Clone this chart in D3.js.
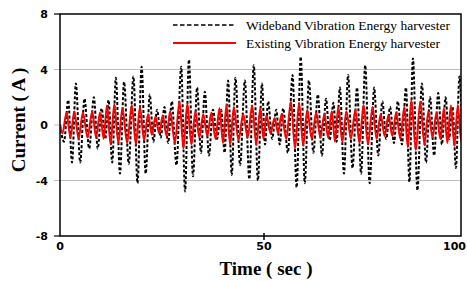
<!DOCTYPE html>
<html><head><meta charset="utf-8">
<script src="https://cdn.jsdelivr.net/npm/d3@7"></script>
<style>html,body{margin:0;padding:0;background:#fff;}svg{display:block;}</style>
</head><body>
<svg id="chart" width="467" height="281"></svg>
<script>
const seriesNames = ["Wideband Vibration Energy harvester", "Existing Vibration Energy harvester"];
const xTicks = [0, 50, 100];
const yTicks = [-8, -4, 0, 4, 8];
const timeWideband = [0,1.0,2.0,2.95,3.9,4.95,6.0,7.15,8.3,9.25,10.2,11.1,11.9,12.8,13.7,14.7,15.7,16.85,18.0,19.0,20.0,21.0,22.0,22.9,23.8,24.7,25.6,26.5,27.4,28.55,29.7,30.65,31.6,32.6,33.6,34.55,35.5,36.5,37.5,38.5,39.5,40.35,41.2,42.1,43.0,44.15,45.3,46.4,47.5,48.5,49.5,50.25,51.0,52.0,53.0,53.85,54.7,55.85,57.0,58.0,59.0,60.0,61.0,62.1,63.2,64.2,65.2,66.1,67.0,67.8,68.6,69.6,70.6,71.7,72.8,73.8,74.8,75.9,77.0,78.0,79.0,79.95,80.9,81.85,82.8,83.8,84.8,85.65,86.5,87.6,88.7,89.7,90.7,91.7,92.7,93.6,94.5,95.35,96.2,97.05,97.9,98.8];
const wideband = [0,-1.2,1.8,-2.7,3.0,-2.7,1.9,-1.7,2.0,-1.7,1.2,-1.0,1.8,-2.7,3.4,-3.5,3.1,-2.8,3.5,-4.2,4.2,-3.5,2.2,-1.2,1.1,-0.9,1.3,-1.3,1.7,-2.9,4.2,-4.8,4.7,-3.7,2.7,-2.0,2.4,-2.2,1.1,-1.0,1.1,-2.0,3.2,-3.6,3.4,-2.9,3.2,-3.9,4.3,-4.0,3.0,-1.4,1.7,-1.0,1.1,-1.4,1.2,-2.0,3.6,-4.5,4.9,-4.2,3.2,-2.0,2.2,-2.2,1.9,-1.1,1.6,-1.2,2.7,-3.5,3.6,-3.1,2.7,-3.5,4.3,-4.2,2.7,-2.2,1.7,-1.0,1.3,-1.3,1.7,-1.4,2.7,-4.1,4.8,-4.7,3.0,-2.7,2.0,-2.2,2.3,-1.4,2.0,-1.0,1.3,-3.1,3.5,-3.0];
const timeExisting = [0,0.6,1.6,2.55,3.5,4.55,5.6,6.75,7.9,8.85,9.8,10.7,11.5,12.4,13.3,14.3,15.3,16.45,17.6,18.6,19.6,20.6,21.6,22.5,23.4,24.3,25.2,26.1,27.0,28.15,29.3,30.25,31.2,32.2,33.2,34.15,35.1,36.1,37.1,38.1,39.1,39.95,40.8,41.7,42.6,43.75,44.9,46.0,47.1,48.1,49.1,49.85,50.6,51.6,52.6,53.45,54.3,55.45,56.6,57.6,58.6,59.6,60.6,61.7,62.8,63.8,64.8,65.7,66.6,67.4,68.2,69.2,70.2,71.3,72.4,73.4,74.4,75.5,76.6,77.6,78.6,79.55,80.5,81.45,82.4,83.4,84.4,85.25,86.1,87.2,88.3,89.3,90.3,91.3,92.3,93.2,94.1,94.95,95.8,96.65,97.5,98.4,99.3];
const existing = [0,-0.6,0.9,-0.9,1.0,-1.0,0.9,-0.9,1.0,-0.9,0.9,-1.0,1.4,-1.4,1.5,-1.3,1.2,-1.3,1.45,-1.4,1.3,-1.1,0.8,-0.7,0.6,-0.6,0.7,-0.8,1.0,-1.3,1.7,-1.7,1.55,-1.4,1.0,-0.9,0.8,-0.8,0.9,-1.0,1.2,-1.3,1.45,-1.4,1.3,-1.1,0.8,-0.9,1.4,-1.4,1.2,-1.0,0.7,-0.6,0.5,-0.6,0.8,-1.0,1.7,-1.7,1.6,-1.5,1.1,-1.0,0.9,-0.9,0.8,-0.9,1.0,-1.2,1.3,-1.2,1.0,-1.0,1.1,-1.3,1.45,-1.4,1.3,-1.0,0.8,-0.8,0.7,-0.8,0.9,-1.0,1.3,-1.6,1.8,-1.8,1.7,-1.4,1.0,-0.9,0.9,-1.0,1.2,-1.3,1.4,-1.5,1.45,-1.3,1.2];

const svg = d3.select("#chart");
const L = 60, T = 14, R = 461, B = 236;
const x = d3.scaleLinear().domain([0, 100]).range([L, 468]);
const y = d3.scaleLinear().domain([-8, 8]).range([B, T]);

// gridlines
svg.append("g").selectAll("line").data(yTicks.filter(v => Math.abs(v) < 8)).join("line")
  .attr("x1", L - 6).attr("x2", R).attr("y1", d => y(d)).attr("y2", d => y(d))
  .attr("stroke", "#bfbfbf").attr("stroke-width", 1.2);
svg.append("g").selectAll("line").data(yTicks.filter(v => Math.abs(v) === 8)).join("line")
  .attr("x1", L - 6).attr("x2", L).attr("y1", d => y(d)).attr("y2", d => y(d))
  .attr("stroke", "#000").attr("stroke-width", 1.2);

svg.append("clipPath").attr("id", "clip").append("rect")
  .attr("x", L).attr("y", T).attr("width", R - L).attr("height", B - T);

const lineGen = (xs) => d3.line().x((d, i) => x(xs[i])).y(d => y(d)).curve(d3.curveMonotoneX);
const plot = svg.append("g").attr("clip-path", "url(#clip)");
plot.append("path").attr("d", lineGen(timeWideband)(wideband))
  .attr("fill", "none").attr("stroke", "#000").attr("stroke-width", 2).attr("stroke-dasharray", "3,2");
plot.append("path").attr("d", lineGen(timeExisting)(existing))
  .attr("fill", "none").attr("stroke", "#ff0000").attr("stroke-width", 2);

// frame
svg.append("rect").attr("x", L).attr("y", T).attr("width", R - L).attr("height", B - T)
  .attr("fill", "none").attr("stroke", "#000").attr("stroke-width", 1.5);

// x ticks
svg.append("g").selectAll("line").data(xTicks.filter(v => v > 0 && v < 100)).join("line")
  .attr("x1", d => x(d)).attr("x2", d => x(d)).attr("y1", B - 3).attr("y2", B + 4)
  .attr("stroke", "#000").attr("stroke-width", 1.5);
svg.append("g").selectAll("text").data(xTicks).join("text")
  .attr("x", d => d === 100 ? 466 : x(d)).attr("y", 250)
  .attr("text-anchor", d => d === 100 ? "end" : "middle")
  .attr("font-family", "DejaVu Sans").attr("font-weight", "bold").attr("font-size", 11)
  .text(d => d);
svg.append("g").selectAll("text").data(yTicks).join("text")
  .attr("x", 48).attr("y", d => y(d) + 4).attr("text-anchor", "end")
  .attr("font-family", "DejaVu Sans").attr("font-weight", "bold").attr("font-size", 11)
  .text(d => d);

// axis titles
svg.append("text").attr("x", 266).attr("y", 275).attr("text-anchor", "middle")
  .attr("font-family", "Liberation Serif").attr("font-weight", "bold").attr("font-size", 19)
  .text("Time ( sec )");
svg.append("text").attr("transform", "translate(25,120) rotate(-90)").attr("text-anchor", "middle")
  .attr("font-family", "Liberation Serif").attr("font-weight", "bold").attr("font-size", 19)
  .text("Current ( A )");

// legend
const leg = svg.append("g");
const legY = [25, 43];
leg.selectAll("line").data(seriesNames).join("line")
  .attr("x1", 173).attr("x2", 236).attr("y1", (d, i) => legY[i]).attr("y2", (d, i) => legY[i])
  .attr("stroke", (d, i) => i === 0 ? "#000" : "#ff0000")
  .attr("stroke-width", (d, i) => i === 0 ? 1.5 : 2)
  .attr("stroke-dasharray", (d, i) => i === 0 ? "4.5,2.5" : null);
leg.selectAll("text").data(seriesNames).join("text")
  .attr("x", 246).attr("y", (d, i) => legY[i] + 5)
  .attr("font-family", "Liberation Serif").attr("font-size", 13.5)
  .text(d => d);
</script>
</body></html>
